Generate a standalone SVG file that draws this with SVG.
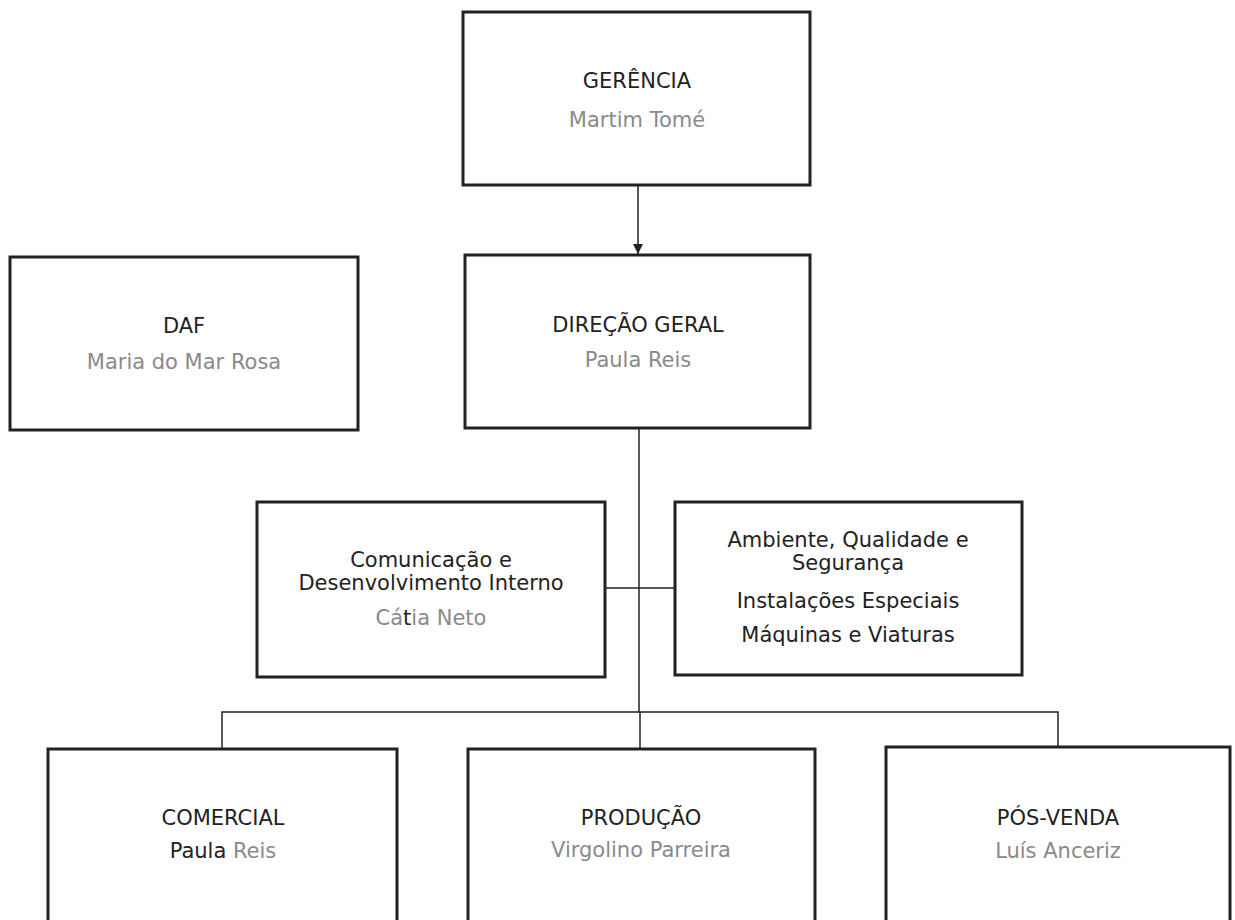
<svg xmlns="http://www.w3.org/2000/svg" width="1235" height="920" viewBox="0 0 1235 920">
<defs>
<style>
.box{fill:#fff;stroke:#222;stroke-width:3}
.t{font-family:"DejaVu Sans",Verdana,sans-serif;font-size:21px;fill:#222;text-anchor:middle}
.n{fill:#8a8a8a}
.c{fill:none;stroke:#222;stroke-width:1.5}
</style>
<marker id="ah" viewBox="0 0 10 10" refX="10" refY="5" markerWidth="10" markerHeight="10" markerUnits="userSpaceOnUse" orient="auto">
<path d="M0,0 L10,5 L0,10 z" fill="#222"/>
</marker>
</defs>
<rect width="1235" height="920" fill="#fff"/>
<g id="connectors">
<path class="c" d="M638,186 V254" marker-end="url(#ah)"/>
<path class="c" d="M639,429 V712"/>
<path class="c" d="M605,588 H675"/>
<path class="c" d="M222,749 V712 H1058 V748"/>
<path class="c" d="M640,712 V749"/>
</g>
<g id="gerencia">
<rect class="box" x="463" y="12" width="347" height="173"/>
<text class="t" x="637" y="88">GERÊNCIA</text>
<text class="t n" x="637" y="127">Martim Tomé</text>
</g>
<g id="daf">
<rect class="box" x="10" y="257" width="348" height="173"/>
<text class="t" x="184" y="333">DAF</text>
<text class="t n" x="184" y="369">Maria do Mar Rosa</text>
</g>
<g id="direcao">
<rect class="box" x="465" y="255" width="345" height="173"/>
<text class="t" x="638" y="332">DIREÇÃO GERAL</text>
<text class="t n" x="638" y="367">Paula Reis</text>
</g>
<g id="comunicacao">
<rect class="box" x="257" y="502" width="348" height="175"/>
<text class="t" x="431" y="567">Comunicação e</text>
<text class="t" x="431" y="590">Desenvolvimento Interno</text>
<text class="t n" x="431" y="625">Cá<tspan fill="#222">t</tspan>ia Neto</text>
</g>
<g id="ambiente">
<rect class="box" x="675" y="502" width="347" height="173"/>
<text class="t" x="848" y="547">Ambiente, Qualidade e</text>
<text class="t" x="848" y="570">Segurança</text>
<text class="t" x="848" y="608">Instalações Especiais</text>
<text class="t" x="848" y="642">Máquinas e Viaturas</text>
</g>
<g id="comercial">
<rect class="box" x="48" y="749" width="349" height="190"/>
<text class="t" x="223" y="825">COMERCIAL</text>
<text class="t" x="223" y="858">Paula <tspan class="n">Reis</tspan></text>
</g>
<g id="producao">
<rect class="box" x="468" y="749" width="347" height="190"/>
<text class="t" x="641" y="825">PRODUÇÃO</text>
<text class="t n" x="641" y="857">Virgolino Parreira</text>
</g>
<g id="posvenda">
<rect class="box" x="886" y="747" width="344" height="190"/>
<text class="t" x="1058" y="825">PÓS-VENDA</text>
<text class="t n" x="1058" y="858">Luís Anceriz</text>
</g>
</svg>
